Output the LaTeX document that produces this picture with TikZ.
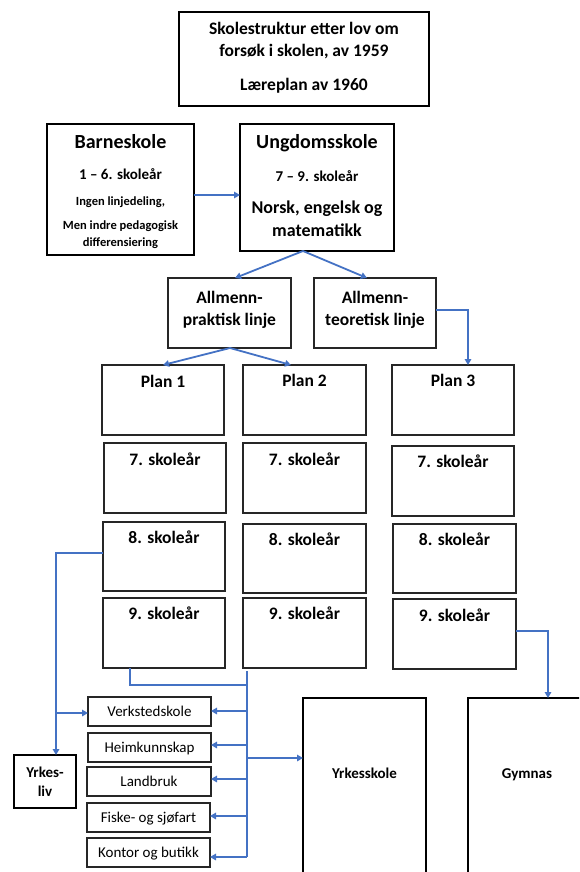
\documentclass[tikz,border=0pt]{standalone}
\usepackage{fontspec}
\setmainfont{Carlito}
\usetikzlibrary{arrows.meta,calc}
\definecolor{lnblue}{HTML}{4472C4}
\tikzset{
  bx/.style={draw, rectangle, inner sep=0pt, outer sep=0pt},
  thickbx/.style={bx, line width=2pt, draw=black},
  thinbx/.style={bx, line width=1.2pt, draw=black!85},
  conn/.style={draw=lnblue, line width=1.8pt},
  arr/.style={conn, -{Triangle[length=6pt,width=6.5pt]}},
  txt/.style={inner sep=0pt, anchor=base},
  tbig/.style={txt, font=\bfseries\fontsize{20}{24}\selectfont},
  tmain/.style={txt, font=\bfseries\fontsize{17.5}{21}\selectfont},
  tnorsk/.style={txt, font=\bfseries\fontsize{18}{22}\selectfont},
  tmid/.style={txt, font=\bfseries\fontsize{15}{18}\selectfont},
  tsmall/.style={txt, font=\bfseries\fontsize{12.5}{15}\selectfont},
  treg/.style={txt, font=\fontsize{15}{18}\selectfont},
}
\newcommand\mkbox[6]{\node[#1, minimum width={#4-#2}, minimum height={#5-#3}] (#6) at ({(#2+#4)/2},{(#3+#5)/2}) {};}
\begin{document}
\begin{tikzpicture}[x=1pt,y=-1pt]
\useasboundingbox (0,0) rectangle (579,872);
\clip (0,0) rectangle (579,872);

% boxes
\mkbox{thickbx}{179}{12}{429}{106}{title}
\mkbox{thickbx}{47}{124}{194}{255}{barn}
\mkbox{thickbx}{240}{124}{394}{251}{ungd}
\mkbox{thinbx}{168}{278}{291}{348}{prak}
\mkbox{thinbx}{314}{278}{436}{348}{teor}
\mkbox{thinbx}{102}{365}{224}{435}{p1}
\mkbox{thinbx}{243}{365}{366}{435}{p2}
\mkbox{thinbx}{392}{365}{514}{435}{p3}
\mkbox{thinbx}{104}{443}{226}{513}{a1}
\mkbox{thinbx}{243}{443}{366}{513}{a2}
\mkbox{thinbx}{392}{446}{514}{516}{a3}
\mkbox{thinbx}{103}{522}{225}{591}{b1}
\mkbox{thinbx}{243}{524}{366}{593}{b2}
\mkbox{thinbx}{393}{524}{516}{593}{b3}
\mkbox{thinbx}{103}{598}{225}{668}{c1}
\mkbox{thinbx}{243}{598}{366}{668}{c2}
\mkbox{thinbx}{393}{599}{516}{669}{c3}
\mkbox{thinbx}{88}{697}{211}{726}{verk}
\mkbox{thinbx}{88}{733}{211}{762}{heim}
\mkbox{thinbx}{87}{767}{211}{796}{land}
\mkbox{thinbx}{87}{803}{210}{832}{fisk}
\mkbox{thinbx}{87}{838}{210}{867}{kont}
\mkbox{thickbx}{14}{755}{76}{808}{yliv}
\mkbox{thickbx}{303}{698}{426}{900}{yrks}
\mkbox{thickbx}{468}{698}{600}{900}{gymn}

% texts
\node[tmain] (t1) at (304,35) {Skolestruktur etter lov om};
\node[tmain] (t2) at (304,57) {forsøk i skolen, av 1959};
\node[tmain] (t3) at (304,91) {Læreplan av 1960};

\node[tbig] (bt1) at (120.5,148) {Barneskole};
\node[tmid] (bt2) at (120.5,179) {1 – 6. skoleår};
\node[tsmall] (bt3) at (120.5,205) {Ingen linjedeling,};
\node[tsmall] (bt4) at (120.5,229) {Men indre pedagogisk};
\begin{scope}
\clip (47,230) rectangle (194,248.5);
\node[tsmall] (bt5) at (120.5,246) {differensiering};
\end{scope}

\node[tbig] (ut1) at (317,148) {Ungdomsskole};
\node[tmid] (ut2) at (317,181) {7 – 9. skoleår};
\node[tnorsk] (ut3) at (317,213) {Norsk, engelsk og};
\node[tnorsk] (ut4) at (317,236) {matematikk};

\node[tmain] (pt1) at (229.5,303) {Allmenn-};
\node[tmain] (pt2) at (229.5,325) {praktisk linje};
\node[tmain] (tt1) at (375,303) {Allmenn-};
\node[tmain] (tt2) at (375,325) {teoretisk linje};

\node[tmain] (p1t) at (163,387) {Plan 1};
\node[tmain] (p2t) at (304.5,386) {Plan 2};
\node[tmain] (p3t) at (453,386) {Plan 3};
\node[tmain] (a1t) at (165,465) {7. skoleår};
\node[tmain] (a2t) at (304.5,465) {7. skoleår};
\node[tmain] (a3t) at (453,467) {7. skoleår};
\node[tmain] (b1t) at (164,543) {8. skoleår};
\node[tmain] (b2t) at (304.5,545) {8. skoleår};
\node[tmain] (b3t) at (454.5,545) {8. skoleår};
\node[tmain] (c1t) at (164,619) {9. skoleår};
\node[tmain] (c2t) at (304.5,619) {9. skoleår};
\node[tmain] (c3t) at (454.5,621) {9. skoleår};

\node[treg] (verkt) at (149.5,716) {Verkstedskole};
\node[treg] (heimt) at (149.5,752) {Heimkunnskap};
\node[treg] (landt) at (149,786) {Landbruk};
\node[treg] (fiskt) at (148.5,822) {Fiske- og sjøfart};
\node[treg] (kontt) at (148.5,857) {Kontor og butikk};

\node[tmid] (ylt1) at (45,777) {Yrkes-};
\node[tmid] (ylt2) at (45,796) {liv};
\node[tmid] (yrkst) at (364.5,778) {Yrkesskole};
\node[tmid] (gymnt) at (527,778) {Gymnas};

% connectors
\draw[arr] (barn.east |- 0,195) -- (ungd.west |- 0,195);
\coordinate (ub) at (ungd.south -| 303,0);
\draw[arr] (ub) -- (prak.north -| 235,0);
\draw[arr] (ub) -- (teor.north -| 367,0);
\coordinate (pb) at (prak.south -| 230,0);
\draw[arr] (pb) -- (p1.north -| 163,0);
\draw[arr] (pb) -- (p2.north -| 291,0);
\draw[arr] (teor.east |- 0,310) -| (p3.north -| 468,0);

\draw[arr] (b1.west |- 0,553) -| (yliv.north -| 56,0);
\coordinate (yj) at (56,713);
\draw[arr] (yj) -- (verk.west |- yj);

\coordinate (vt) at (247,671);
\coordinate (vb) at (247,857);
\draw[conn] (c1.south -| 130,0) |- (247,685);
\draw[conn] (vt) -- (vb);
\draw[arr] (247,711) -- (verk.east |- 0,711);
\draw[arr] (247,745) -- (heim.east |- 0,745);
\draw[arr] (247,779) -- (land.east |- 0,779);
\draw[arr] (247,816) -- (fisk.east |- 0,816);
\draw[arr] (vb) -- (kont.east |- vb);
\draw[arr] (247,758) -- (yrks.west |- 0,758);

\draw[arr] (c3.east |- 0,631) -| (gymn.north -| 548,0);
\end{tikzpicture}
\end{document}
